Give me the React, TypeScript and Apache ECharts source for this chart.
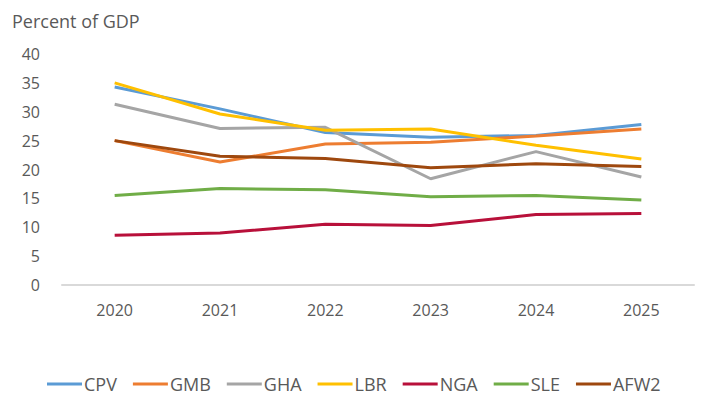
import React, { useEffect, useRef } from "react";
import * as echarts from "echarts";

const years = ["2020", "2021", "2022", "2023", "2024", "2025"];
const seriesNames = ["CPV", "GMB", "GHA", "LBR", "NGA", "SLE", "AFW2"];
const CPV = [34.3, 30.5, 26.4, 25.6, 25.9, 27.8];
const GMB = [25.0, 21.3, 24.4, 24.7, 25.8, 27.0];
const GHA = [31.3, 27.1, 27.3, 18.4, 23.1, 18.7];
const LBR = [35.0, 29.6, 26.8, 27.0, 24.2, 21.8];
const NGA = [8.6, 9.0, 10.5, 10.3, 12.2, 12.4];
const SLE = [15.5, 16.7, 16.5, 15.3, 15.5, 14.7];
const AFW2 = [25.0, 22.3, 21.9, 20.3, 21.0, 20.5];
const colors = ["#5B9BD5", "#ED7D31", "#A5A5A5", "#FFC000", "#B8103A", "#70AD47", "#9E480E"];

export default function App() {
  const ref = useRef<HTMLDivElement>(null);
  useEffect(() => {
    if (!ref.current) return;
    const chart = echarts.init(ref.current, null, { renderer: "svg" });
    const data = [CPV, GMB, GHA, LBR, NGA, SLE, AFW2];
    chart.setOption({
      animation: false,
      textStyle: { fontFamily: "Open Sans" },
      title: {
        text: "Percent of GDP",
        left: 4,
        top: 2,
        padding: 0,
        textStyle: { fontSize: 18, lineHeight: 22, fontWeight: "normal", color: "#595959", fontFamily: "Open Sans" },
      },
      grid: { left: 54, right: 10, top: 46, bottom: 121 },
      legend: {
        top: 367,
        left: 34,
        itemWidth: 35,
        itemHeight: 3,
        itemGap: 16,
        icon: "rect",
        padding: [0, 5, 0, 5],
        textStyle: { fontSize: 18, color: "#595959", padding: [0, 0, 0, -3] },
        data: seriesNames,
      },
      xAxis: {
        type: "category",
        data: years,
        axisLine: { lineStyle: { color: "#D9D9D9", width: 2 } },
        axisTick: { show: false },
        axisLabel: { fontSize: 16, color: "#595959", margin: 17 },
      },
      yAxis: {
        type: "value",
        min: 0,
        max: 40,
        interval: 5,
        splitLine: { show: false },
        axisLine: { show: false },
        axisLabel: { fontSize: 16, color: "#595959", margin: 22 },
      },
      series: seriesNames.map((n, i) => ({
        name: n,
        type: "line",
        data: data[i],
        symbol: "none",
        lineStyle: { width: 3, color: colors[i] },
        itemStyle: { color: colors[i] },
      })),
    });
    return () => chart.dispose();
  }, []);
  return <div ref={ref} style={{ width: 696, height: 398 }} />;
}
